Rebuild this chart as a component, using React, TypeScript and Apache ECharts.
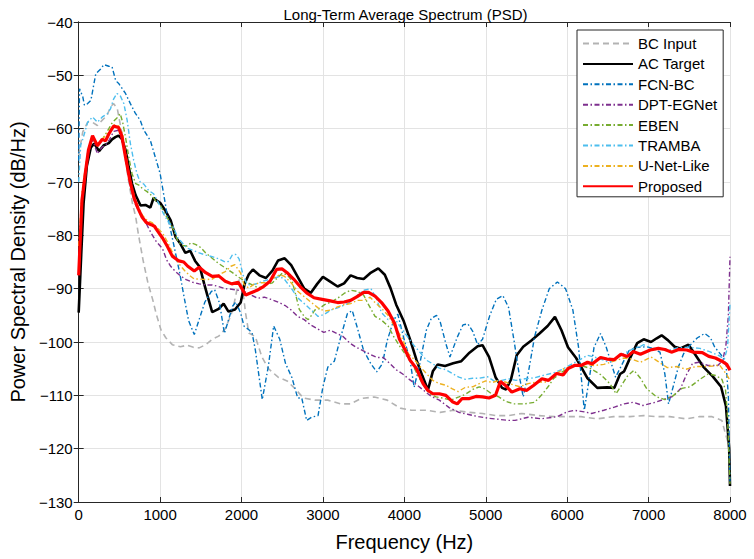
import React, { useEffect, useRef } from "react";
import * as echarts from "echarts";

// ---- Data ----
const seriesNames = ["BC Input", "AC Target", "FCN-BC", "DPT-EGNet", "EBEN", "TRAMBA", "U-Net-Like", "Proposed"];
const xTicks = [0, 1000, 2000, 3000, 4000, 5000, 6000, 7000, 8000];
const yTicks = [-130, -120, -110, -100, -90, -80, -70, -60, -50, -40];

const bcFreq = [0, 50, 110, 170, 230, 290, 350, 390, 430, 475, 530, 575, 610, 660, 700, 730, 790, 850, 910, 950, 1010, 1070, 1150, 1250, 1330, 1410, 1480, 1560, 1640, 1720, 1800, 1870, 1910, 1970, 2010, 2050, 2090, 2170, 2250, 2330, 2450, 2560, 2660, 2760, 2900, 3060, 3220, 3340, 3470, 3630, 3790, 3950, 4090, 4270, 4440, 4600, 4800, 4960, 5120, 5280, 5440, 5650, 5850, 6010, 6170, 6370, 6570, 6770, 6940, 7100, 7260, 7460, 7620, 7780, 7900, 7940, 7970, 8000];
const bcVals = [-65, -60.6, -58.8, -58.8, -59.4, -58.4, -57.5, -55.9, -55.3, -56.3, -60.8, -65.9, -69.5, -74, -76.5, -79.5, -84.6, -88.9, -92.1, -94.6, -97.7, -99.2, -100.5, -100.9, -100.6, -101, -101.1, -100.5, -99.5, -98.9, -97.5, -95, -92.7, -88.3, -89.5, -94.6, -98.3, -99, -102.8, -105, -106.6, -107.3, -108.8, -110.5, -110.9, -110.9, -111.6, -111.6, -110.6, -110.3, -110.9, -112.4, -112.8, -112.8, -113.2, -112.8, -113.2, -113.4, -113.8, -113.8, -113.4, -113.8, -114, -114, -114, -114.4, -114, -114, -113.8, -114, -114, -114.4, -114, -114, -114.7, -117, -118.5, -121];

const acFreq = [0, 30, 60, 100, 150, 190, 250, 310, 370, 410, 450, 490, 530, 575, 615, 655, 700, 760, 820, 880, 920, 960, 1000, 1070, 1130, 1190, 1250, 1310, 1370, 1430, 1490, 1540, 1580, 1640, 1720, 1780, 1840, 1920, 1990, 2040, 2090, 2140, 2220, 2300, 2380, 2450, 2530, 2610, 2690, 2770, 2850, 2930, 3000, 3080, 3180, 3260, 3340, 3420, 3500, 3580, 3680, 3760, 3830, 3900, 3990, 4070, 4150, 4220, 4290, 4350, 4410, 4500, 4600, 4700, 4800, 4900, 4960, 5040, 5120, 5200, 5250, 5310, 5380, 5460, 5560, 5660, 5760, 5850, 5930, 6010, 6110, 6250, 6370, 6490, 6580, 6650, 6700, 6760, 6860, 6940, 7030, 7100, 7160, 7240, 7320, 7390, 7490, 7570, 7670, 7790, 7890, 7950, 7990, 8000];
const acVals = [-94.5, -84, -74, -67, -63.5, -62.8, -64.2, -63.1, -62.7, -62, -61.6, -61.3, -61.9, -64, -67.2, -70.3, -72.5, -74.4, -74.3, -74.8, -73, -73.5, -73.9, -75.5, -77.2, -80.3, -81.6, -83.3, -82.9, -84.8, -86, -89, -91.2, -94.4, -93.8, -92.8, -94.3, -93.9, -92.6, -89, -87.3, -86.4, -87.5, -88, -86.6, -84.7, -84.3, -85.6, -87.8, -90, -90.8, -89.1, -87.8, -88.6, -89.6, -89, -87.5, -88, -88.2, -87.1, -86.2, -87.4, -89.9, -93, -96, -99.5, -103.4, -106.3, -109, -105.5, -104.2, -104.5, -104, -103.6, -102, -100.8, -100.6, -102.8, -106.6, -108.6, -108.9, -107, -102.5, -100.9, -99.7, -98.4, -97, -95.3, -97.8, -101, -103, -106.8, -108.6, -108.5, -108.6, -106, -105.5, -103.4, -100.2, -99.5, -100, -99.3, -98.75, -99.7, -100.9, -101.2, -100.5, -102.3, -104.6, -106.5, -108.4, -112, -120, -127];

const fcnFreq = [0, 10, 50, 70, 110, 150, 210, 270, 310, 370, 410, 455, 495, 575, 635, 695, 755, 800, 880, 940, 1000, 1080, 1150, 1240, 1300, 1350, 1420, 1475, 1550, 1630, 1670, 1730, 1790, 1830, 1890, 1930, 1990, 2030, 2090, 2130, 2170, 2255, 2330, 2395, 2470, 2540, 2620, 2690, 2740, 2800, 2860, 2940, 3000, 3060, 3140, 3220, 3300, 3360, 3420, 3500, 3590, 3660, 3730, 3790, 3870, 3920, 3990, 4070, 4120, 4190, 4270, 4330, 4395, 4440, 4510, 4560, 4650, 4720, 4780, 4840, 4900, 4960, 5050, 5130, 5210, 5280, 5350, 5420, 5460, 5520, 5600, 5690, 5780, 5880, 5980, 6070, 6140, 6210, 6270, 6330, 6410, 6480, 6595, 6680, 6760, 6850, 6980, 7050, 7140, 7200, 7245, 7300, 7365, 7430, 7510, 7600, 7690, 7760, 7810, 7910, 7950, 7980, 8000];
const fcnVals = [-66, -52.5, -54, -55.6, -55.3, -54.7, -49.7, -48.8, -48, -48.3, -48.4, -51, -51.6, -53.4, -55.3, -57.1, -58.4, -60.3, -62.2, -65.3, -68.4, -75.5, -80.5, -87, -92, -96, -98.6, -96, -92.5, -90.5, -90.2, -92.7, -98.4, -96.4, -93.3, -92.5, -94.6, -97, -97.7, -98.3, -101.5, -110.8, -104.5, -97, -99.5, -104, -106.7, -110.5, -110.5, -114.7, -114.1, -113.8, -108.4, -104.7, -103.6, -99, -94.7, -94.1, -97.2, -101.6, -104.1, -105.6, -104.1, -99.7, -95.9, -94.8, -99.1, -103.4, -108.5, -104.1, -97.8, -95.6, -95, -96.2, -100.3, -102.8, -99.1, -96.8, -96.6, -98, -100.5, -99.5, -95, -92, -91.3, -93.5, -100, -107, -110.3, -106, -99, -94, -90, -88.75, -90, -94, -101, -112.8, -107, -101, -98.4, -101, -106.6, -104, -101.6, -101, -100.9, -101.2, -101.9, -106, -111.6, -108.5, -104.7, -102.2, -100.6, -99.2, -98.4, -99.2, -100.9, -102.8, -104, -110, -126.6];

const dptFreq = [0, 40, 80, 120, 170, 230, 290, 330, 380, 430, 490, 540, 580, 630, 690, 750, 830, 890, 950, 1030, 1080, 1130, 1190, 1250, 1320, 1400, 1480, 1560, 1640, 1720, 1800, 1880, 1960, 2040, 2120, 2200, 2280, 2360, 2460, 2540, 2610, 2690, 2770, 2850, 2930, 3010, 3090, 3170, 3250, 3330, 3410, 3490, 3580, 3660, 3740, 3820, 3900, 3980, 4060, 4150, 4240, 4330, 4430, 4550, 4670, 4790, 4910, 5040, 5160, 5280, 5360, 5520, 5680, 5880, 6000, 6090, 6210, 6300, 6450, 6580, 6700, 6810, 6930, 7060, 7180, 7300, 7390, 7460, 7540, 7620, 7730, 7850, 7910, 7950, 7980, 8000];
const dptVals = [-86, -74, -68.5, -64.5, -62, -64.7, -63.4, -63.1, -62, -60.5, -60.3, -62.5, -66, -70.5, -74, -75.8, -77.8, -79.6, -81.1, -82.5, -84.6, -85.8, -86.8, -87.6, -88.3, -88.8, -89.1, -89.3, -89.3, -89.6, -90, -90.1, -90.3, -90.6, -91.2, -91.8, -91.6, -92, -92.6, -93.2, -94, -95.2, -95.8, -96.8, -97.5, -98.2, -97.8, -98.4, -99, -100.2, -101, -101.6, -102.3, -102.9, -102.9, -104, -105.2, -106, -107, -108, -109.1, -110.2, -110.9, -112.3, -113.2, -113.6, -114, -114.3, -114.5, -114.7, -114.7, -114.1, -114.4, -114, -113.1, -112.8, -113.1, -113.4, -112.8, -112.2, -111.6, -111.3, -111.9, -111.4, -110.8, -110.2, -108.8, -106.3, -104, -103.8, -104.4, -104.4, -103.5, -100.6, -95, -84];

const ebenFreq = [0, 40, 80, 120, 170, 230, 300, 370, 415, 470, 510, 540, 575, 615, 655, 700, 740, 780, 840, 900, 960, 1000, 1050, 1100, 1160, 1220, 1280, 1330, 1380, 1440, 1500, 1560, 1640, 1720, 1800, 1880, 1960, 2040, 2120, 2200, 2260, 2320, 2380, 2440, 2500, 2560, 2620, 2660, 2710, 2780, 2820, 2860, 2900, 2950, 3020, 3100, 3180, 3260, 3340, 3420, 3500, 3560, 3640, 3720, 3800, 3870, 3940, 4020, 4100, 4170, 4230, 4310, 4390, 4470, 4570, 4670, 4750, 4840, 4920, 4990, 5070, 5160, 5240, 5340, 5480, 5600, 5700, 5770, 5830, 5930, 6050, 6170, 6290, 6410, 6530, 6600, 6660, 6740, 6820, 6900, 6980, 7100, 7200, 7300, 7410, 7510, 7630, 7730, 7830, 7900, 7945, 7970, 8000];
const ebenVals = [-87, -74.5, -68.5, -64.5, -61.8, -63, -61.8, -60, -58.8, -58, -57.2, -58.8, -61.6, -65.3, -68.4, -70.3, -70.6, -71.2, -71.8, -72.6, -73.8, -74.2, -75.8, -77, -78.8, -81.2, -81.9, -82, -81.4, -81.75, -82.3, -83.3, -84.3, -85.3, -86.1, -86.9, -87.8, -88.6, -89.2, -89.8, -89.7, -89.2, -88.9, -88, -87.1, -87.4, -88.5, -90.8, -93.9, -95.4, -95.8, -95, -94, -93.8, -93, -92.5, -91.8, -90.9, -90.3, -90.5, -91.2, -93, -95.2, -95.9, -97, -99, -100.7, -102.5, -104.2, -106.4, -108, -109.7, -110.3, -110.5, -110.9, -110.3, -109.8, -108.9, -108.4, -108.8, -109.7, -110.3, -111.1, -111.6, -111.6, -111.3, -109.7, -108.3, -106.9, -105.7, -104.5, -104.4, -105, -106.1, -107.9, -109.7, -108.3, -106.4, -105.3, -106.8, -108.8, -110.3, -110.8, -110.1, -108.7, -108.4, -107, -106, -106.3, -107, -109, -114, -126.6];

const trambaFreq = [0, 25, 50, 110, 170, 230, 290, 350, 390, 430, 470, 510, 555, 595, 635, 675, 715, 755, 800, 860, 920, 980, 1040, 1100, 1160, 1220, 1290, 1330, 1400, 1480, 1560, 1640, 1720, 1800, 1840, 1890, 1930, 1970, 2020, 2070, 2130, 2200, 2260, 2330, 2410, 2470, 2530, 2610, 2690, 2770, 2850, 2940, 3020, 3100, 3180, 3260, 3340, 3420, 3500, 3590, 3650, 3720, 3800, 3880, 3950, 4030, 4110, 4190, 4270, 4350, 4430, 4510, 4590, 4670, 4750, 4840, 4920, 5020, 5100, 5200, 5280, 5370, 5480, 5600, 5720, 5830, 5930, 6050, 6170, 6250, 6330, 6410, 6500, 6570, 6660, 6780, 6900, 6940, 7030, 7140, 7260, 7380, 7500, 7630, 7750, 7870, 7930, 7970, 8000];
const trambaVals = [-70, -63, -62, -58.8, -57.8, -58.8, -57.8, -57.2, -56.3, -54.4, -53.4, -53.8, -55.3, -58.4, -62.8, -65.9, -68.4, -70, -70.4, -71.6, -72.2, -73.9, -75.9, -77.5, -78.4, -80.5, -81.7, -82.4, -82.8, -83.3, -83.7, -84, -84.4, -85, -84.9, -83.6, -83.6, -84.4, -87.5, -89.2, -89.3, -89, -88.6, -88.3, -88, -87.7, -88.3, -89.9, -91.7, -92.8, -93.9, -95.2, -94.8, -94, -93.6, -93.1, -92.5, -91.3, -90.3, -90, -91.6, -94.5, -95.8, -95.5, -97.2, -98.8, -100.5, -101.9, -103.4, -104.1, -104.9, -105.2, -105.9, -106.6, -107, -106.8, -106.8, -106.5, -107.3, -107.2, -106.9, -107.2, -106.9, -106.7, -106.2, -105.8, -105.2, -104.2, -103.2, -102.5, -102.8, -103.2, -103.7, -103.5, -102.5, -101.5, -100.8, -100.5, -101.2, -101.2, -101.5, -101, -101, -101.2, -101.8, -102.6, -103.2, -101, -92.8];

const unetFreq = [0, 40, 80, 120, 170, 230, 290, 370, 430, 490, 540, 580, 630, 680, 730, 780, 840, 900, 960, 1030, 1090, 1160, 1230, 1300, 1360, 1420, 1480, 1560, 1640, 1720, 1800, 1870, 1920, 1950, 1990, 2030, 2090, 2150, 2230, 2310, 2390, 2470, 2530, 2610, 2690, 2770, 2850, 2940, 3020, 3100, 3180, 3260, 3340, 3420, 3500, 3580, 3640, 3720, 3800, 3890, 3970, 4050, 4130, 4210, 4270, 4350, 4430, 4510, 4590, 4660, 4750, 4840, 4920, 5000, 5080, 5160, 5240, 5330, 5420, 5520, 5640, 5760, 5860, 5960, 6090, 6220, 6330, 6450, 6570, 6700, 6790, 6900, 7030, 7140, 7230, 7350, 7460, 7580, 7700, 7790, 7870, 7930, 7970, 8000];
const unetVals = [-82, -72, -67.5, -63.5, -61.5, -63, -62, -60.5, -59.3, -59.5, -61, -65, -69.5, -72.5, -74.6, -76.2, -77.2, -77.6, -78.5, -79.6, -81.2, -83.5, -85.3, -86.6, -87.5, -88.2, -88.2, -88.3, -88.2, -87.4, -86.8, -85.8, -85.5, -86.2, -87.1, -89.2, -89.9, -89.2, -88.9, -88.9, -88, -87.4, -87.7, -88.9, -90.5, -91.5, -92.5, -93.6, -94.2, -94, -93.4, -93, -92.8, -92.2, -92.2, -91.6, -92.6, -93.7, -95, -97.3, -99.2, -102.2, -103.4, -104.9, -105.9, -107.2, -107.8, -108.1, -108.8, -109.3, -108.5, -108.4, -107.8, -107.3, -107.6, -107.2, -107.5, -108, -108.4, -107.8, -107.5, -107.5, -106, -105, -104.4, -104.2, -104.4, -104.2, -103.6, -103, -103.2, -103.8, -102.8, -103.9, -104.8, -104.6, -105.1, -104.6, -104.6, -104.5, -104.3, -105.5, -106.4, -107.2];

const propFreq = [0, 40, 80, 120, 170, 230, 290, 330, 370, 430, 490, 530, 575, 630, 680, 730, 780, 830, 890, 930, 970, 1030, 1090, 1150, 1230, 1290, 1340, 1420, 1480, 1560, 1640, 1720, 1800, 1880, 1960, 2050, 2110, 2190, 2270, 2350, 2430, 2500, 2560, 2640, 2720, 2800, 2890, 2990, 3090, 3180, 3260, 3340, 3420, 3500, 3560, 3640, 3720, 3800, 3880, 3940, 4010, 4070, 4150, 4230, 4290, 4350, 4430, 4510, 4590, 4650, 4710, 4800, 4880, 4960, 5040, 5120, 5180, 5240, 5320, 5420, 5500, 5590, 5690, 5770, 5870, 5950, 6010, 6090, 6170, 6250, 6310, 6410, 6490, 6580, 6660, 6740, 6810, 6900, 7020, 7120, 7200, 7280, 7370, 7470, 7550, 7660, 7740, 7820, 7900, 7960, 8000];
const propVals = [-87.5, -73.5, -68.5, -64, -61.3, -63.2, -62, -62.3, -61, -59.5, -59.8, -61.4, -65.3, -69.8, -73, -75, -76.6, -77.6, -78, -78.3, -79.2, -80.5, -82.1, -83.9, -84.8, -85, -85.8, -86.7, -86, -87, -87.7, -87.6, -88.6, -89.1, -88.8, -91.2, -90.8, -90.3, -89.6, -88.6, -86.4, -86.3, -87, -88.2, -89.6, -90.8, -91.7, -92, -92.3, -92.6, -92.5, -92.2, -91.5, -90.7, -90.7, -91.4, -92.6, -94.2, -96.5, -99.5, -101.5, -103.4, -105, -107.8, -109.1, -109.7, -109.7, -110, -111.2, -111.6, -110.6, -110.6, -110.2, -110.3, -110.5, -110, -107.4, -108.1, -109.4, -108.75, -109.1, -108.1, -106.9, -107.2, -105.9, -106.2, -105, -104.4, -104.4, -103.8, -104.1, -102.9, -103.2, -103.3, -102.3, -102.7, -101.8, -102.3, -101.5, -101.2, -101.4, -101.9, -101.4, -101.5, -101.9, -102, -102.7, -103, -103.6, -104.2, -105.3];

const FONT = "'Liberation Sans', Arial, Helvetica, sans-serif";
const AXIS_COLOR = "#262626";
const DASH = [6, 4];
const DASHDOT = [5, 2.5, 1.5, 2.5];

function pairs(f: number[], v: number[]) {
  return f.map((x, i) => [x, v[i]]);
}

const seriesDefs = [
  { name: seriesNames[0], f: bcFreq, v: bcVals, color: "#b3b3b3", width: 1.6, type: DASH },
  { name: seriesNames[1], f: acFreq, v: acVals, color: "#000000", width: 2.6, type: "solid" },
  { name: seriesNames[2], f: fcnFreq, v: fcnVals, color: "#0072BD", width: 1.4, type: DASHDOT },
  { name: seriesNames[3], f: dptFreq, v: dptVals, color: "#7E2F8E", width: 1.4, type: DASHDOT },
  { name: seriesNames[4], f: ebenFreq, v: ebenVals, color: "#77AC30", width: 1.4, type: DASHDOT },
  { name: seriesNames[5], f: trambaFreq, v: trambaVals, color: "#4DBEEE", width: 1.4, type: DASHDOT },
  { name: seriesNames[6], f: unetFreq, v: unetVals, color: "#EDB120", width: 1.4, type: DASHDOT },
  { name: seriesNames[7], f: propFreq, v: propVals, color: "#FF0000", width: 3.2, type: "solid" },
];

const minusFmt = (v: number) => String(v).replace("-", "\u2212");
const plainFmt = (v: number) => String(v);

export default function App() {
  const ref = useRef<HTMLDivElement>(null);
  useEffect(() => {
    document.body.style.margin = "0";
    if (!ref.current) return;
    const chart = echarts.init(ref.current, null, { renderer: "svg" });
    const baseAxis = {
      axisLine: { show: true, lineStyle: { color: AXIS_COLOR, width: 1 } },
      axisTick: { show: true, inside: true, length: 5, lineStyle: { color: AXIS_COLOR } },
    };
    chart.setOption({
      animation: false,
      backgroundColor: "#ffffff",
      textStyle: { fontFamily: FONT },
      title: {
        text: "Long-Term Average Spectrum (PSD)",
        left: 400.5,
        top: 2,
        textAlign: "center",
        textStyle: { fontFamily: FONT, fontSize: 15, fontWeight: "normal", color: "#000" },
      },
      grid: { left: 71, right: 24, top: 22, bottom: 57, containLabel: false },
      legend: {
        orient: "vertical",
        left: 577,
        top: 30,
        itemWidth: 50,
        itemHeight: 14,
        itemGap: 5.4,
        padding: [6, 6, 3, 5],
        backgroundColor: "#ffffff",
        borderColor: AXIS_COLOR,
        borderWidth: 1,
        borderRadius: 0,
        itemStyle: { opacity: 0 },
        textStyle: { fontFamily: FONT, fontSize: 15, color: "#000" },
        data: seriesNames,
      },
      xAxis: [
        {
          ...baseAxis,
          type: "value",
          min: xTicks[0],
          max: xTicks[xTicks.length - 1],
          interval: 1000,
          name: "Frequency (Hz)",
          nameLocation: "middle",
          nameGap: 30,
          nameTextStyle: { fontFamily: FONT, fontSize: 20, color: "#000" },
          axisLabel: { fontFamily: FONT, fontSize: 15, color: "#000", margin: 5, formatter: plainFmt },
          splitLine: { show: true, lineStyle: { color: "#e3e3e3", width: 1 } },
        },
        {
          ...baseAxis,
          type: "value",
          position: "top",
          min: xTicks[0],
          max: xTicks[xTicks.length - 1],
          interval: 1000,
          axisLabel: { show: false },
          splitLine: { show: false },
        },
      ],
      yAxis: [
        {
          ...baseAxis,
          type: "value",
          min: yTicks[0],
          max: yTicks[yTicks.length - 1],
          interval: 10,
          name: "Power Spectral Density (dB/Hz)",
          nameLocation: "middle",
          nameGap: 43,
          nameTextStyle: { fontFamily: FONT, fontSize: 20, color: "#000" },
          axisLabel: { fontFamily: FONT, fontSize: 15, color: "#000", margin: 6, formatter: minusFmt },
          splitLine: { show: true, lineStyle: { color: "#e3e3e3", width: 1 } },
        },
        {
          ...baseAxis,
          type: "value",
          position: "right",
          min: yTicks[0],
          max: yTicks[yTicks.length - 1],
          interval: 10,
          axisLabel: { show: false },
          splitLine: { show: false },
        },
      ],
      series: seriesDefs.map((s) => ({
        name: s.name,
        type: "line",
        xAxisIndex: 0,
        yAxisIndex: 0,
        data: pairs(s.f, s.v),
        showSymbol: false,
        symbol: "none",
        color: s.color,
        itemStyle: { color: s.color },
        lineStyle: { color: s.color, width: s.width, type: s.type },
        emphasis: { disabled: true },
      })),
    });
    return () => chart.dispose();
  }, []);
  return (
    <div
      ref={ref}
      style={{ position: "absolute", left: 0, top: 0, width: 754, height: 559 }}
    />
  );
}
